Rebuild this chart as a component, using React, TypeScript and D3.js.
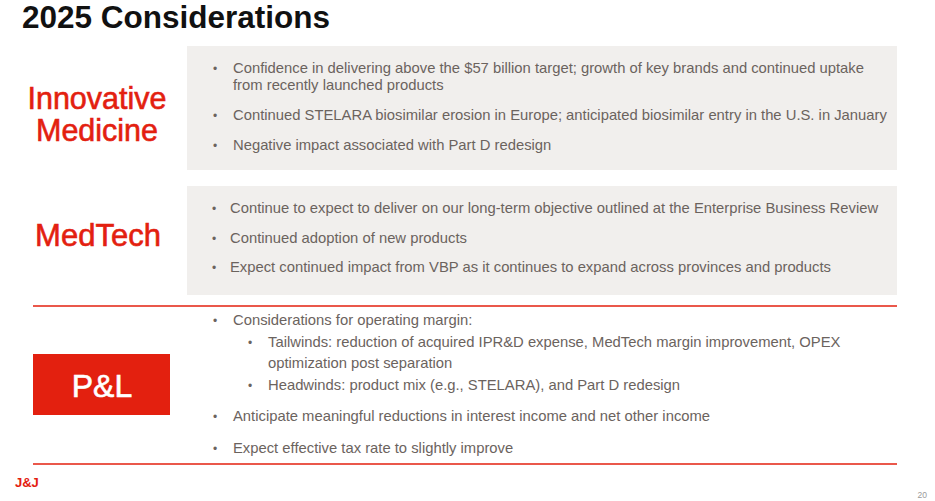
import React, { useEffect, useRef } from "react";
import * as d3 from "d3";

const titleText = "2025 Considerations";
const sectionNames = ["Innovative Medicine", "MedTech", "P&L"];
const sectionLabelLines = [["Innovative", "Medicine"], ["MedTech"], ["P&L"]];

const innovativeBullets = [
  { level: 0, lines: ["Confidence in delivering above the $57 billion target; growth of key brands and continued uptake", "from recently launched products"] },
  { level: 0, lines: ["Continued STELARA biosimilar erosion in Europe; anticipated biosimilar entry in the U.S. in January"] },
  { level: 0, lines: ["Negative impact associated with Part D redesign"] },
];
const medtechBullets = [
  { level: 0, lines: ["Continue to expect to deliver on our long-term objective outlined at the Enterprise Business Review"] },
  { level: 0, lines: ["Continued adoption of new products"] },
  { level: 0, lines: ["Expect continued impact from VBP as it continues to expand across provinces and products"] },
];
const plBullets = [
  { level: 0, lines: ["Considerations for operating margin:"] },
  { level: 1, lines: ["Tailwinds: reduction of acquired IPR&D expense, MedTech margin improvement, OPEX", "optimization post separation"] },
  { level: 1, lines: ["Headwinds: product mix (e.g., STELARA), and Part D redesign"] },
  { level: 0, lines: ["Anticipate meaningful reductions in interest income and net other income"] },
  { level: 0, lines: ["Expect effective tax rate to slightly improve"] },
];
const logoText = "J&J";
const pageNumber = "20";

const W = 935;
const H = 501;
const RED = "#e3200f";
const GRAY_TEXT = "#6b635e";
const BOX_FILL = "#f1efed";
const BODY_FONT = "'Liberation Sans', Arial, sans-serif";

export default function App() {
  const ref = useRef<SVGSVGElement>(null);

  useEffect(() => {
    const svg = d3.select(ref.current);
    svg.selectAll("*").remove();

    // title
    svg.append("text")
      .attr("x", 22).attr("y", 28)
      .attr("font-family", BODY_FONT).attr("font-weight", 700)
      .attr("font-size", 31.5).attr("fill", "#111")
      .text(titleText);

    // gray boxes
    const boxes = [
      { y0: 46, y1: 170 },
      { y0: 186, y1: 295 },
    ];
    const bx = d3.scaleLinear().domain([0, 1]).range([187, 897]);
    svg.selectAll("rect.box").data(boxes).join("rect")
      .attr("class", "box")
      .attr("x", bx(0)).attr("width", bx(1) - bx(0))
      .attr("y", (d) => d.y0).attr("height", (d) => d.y1 - d.y0)
      .attr("fill", BOX_FILL);

    // red rules
    svg.selectAll("line.rule").data([306, 464]).join("line")
      .attr("class", "rule")
      .attr("x1", 33).attr("x2", 897)
      .attr("y1", (d) => d).attr("y2", (d) => d)
      .attr("stroke", RED).attr("stroke-width", 1.6);

    // P&L red box
    svg.append("rect").attr("x", 33).attr("y", 354).attr("width", 137).attr("height", 61).attr("fill", RED);

    // section labels
    const labelPos = [
      { cx: 97, y: 109, lh: 32, fill: RED, size: 30.5 },
      { cx: 98, y: 246, lh: 32, fill: RED, size: 31 },
      { cx: 102, y: 397, lh: 32, fill: "#fff", size: 32 },
    ];
    sectionLabelLines.forEach((lines, i) => {
      const p = labelPos[i];
      const t = svg.append("text")
        .attr("text-anchor", "middle")
        .attr("font-family", BODY_FONT)
        .attr("font-size", p.size)
        .attr("fill", p.fill)
        .attr("stroke", p.fill).attr("stroke-width", 0.6)
        .attr("aria-label", sectionNames[i]);
      lines.forEach((ln, j) => {
        t.append("tspan").attr("x", p.cx).attr("y", p.y + j * p.lh).text(ln);
      });
    });

    // bullets
    const sections = [
      { items: innovativeBullets, y: 73, lineGap: 17, itemGap: 30, bx: [213, 248], tx: [233, 268] },
      { items: medtechBullets, y: 213, lineGap: 17, itemGap: 29.5, bx: [212, 248], tx: [230, 268] },
      { items: plBullets, y: 325, lineGap: 21.5, itemGap: 31.5, bx: [213, 248], tx: [233, 268] },
    ];
    sections.forEach((s) => {
      let y = s.y;
      s.items.forEach((item, k) => {
        if (k > 0) y += item.level === 0 ? s.itemGap : s.lineGap;
        svg.append("text")
          .attr("x", s.bx[item.level]).attr("y", y)
          .attr("font-family", BODY_FONT).attr("font-size", 12)
          .attr("fill", GRAY_TEXT)
          .text("•");
        item.lines.forEach((ln, j) => {
          if (j > 0) y += s.lineGap;
          svg.append("text")
            .attr("x", s.tx[item.level]).attr("y", y)
            .attr("font-family", BODY_FONT).attr("font-size", 14.8)
            .attr("fill", GRAY_TEXT)
            .text(ln);
        });
      });
    });

    // logo
    svg.append("text")
      .attr("x", 15).attr("y", 487)
      .attr("font-family", BODY_FONT).attr("font-weight", 700)
      .attr("font-size", 13).attr("fill", RED)
      .text(logoText);

    svg.append("text")
      .attr("x", 927).attr("y", 498).attr("text-anchor", "end")
      .attr("font-family", BODY_FONT).attr("font-size", 8.5)
      .attr("fill", "#9a9a9a")
      .text(pageNumber);
  }, []);

  return (
    <svg ref={ref} width={W} height={H} style={{ position: "absolute", left: 0, top: 0, background: "#fff" }} />
  );
}
